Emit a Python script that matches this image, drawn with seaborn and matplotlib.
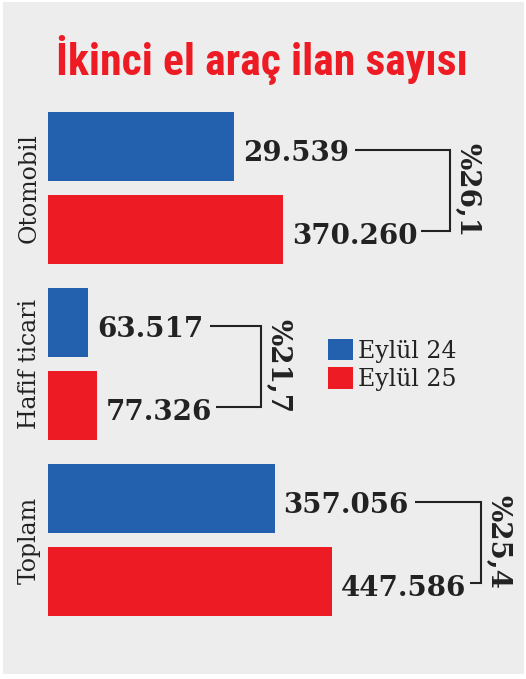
import matplotlib
matplotlib.use('Agg')
import matplotlib.pyplot as plt
from matplotlib import font_manager
from matplotlib.patches import Rectangle
import seaborn as sns
import pandas as pd

# data (bar lengths; the printed labels are kept as text)
categories = ['Otomobil', 'Hafif ticari', 'Toplam']
periods = ['Eylül 24', 'Eylül 25']
sep24 = [293539, 63517, 357056]
sep25 = [370260, 77326, 447586]
labels24 = ['29.539', '63.517', '357.056']
labels25 = ['370.260', '77.326', '447.586']

BLUE = '#2360ae'
RED = '#ed1c24'
BG = '#ededed'
INK = '#222222'

sns.set_theme(style='white')
plt.rcParams['font.family'] = ['DejaVu Serif']

names = {f.name for f in font_manager.fontManager.ttflist}
title_font = 'DejaVu Sans'
for cand in ['Roboto Condensed', 'Liberation Sans Narrow', 'DejaVu Sans Condensed', 'Open Sans Condensed']:
    if cand in names:
        title_font = cand
        break

df = pd.DataFrame({
    'kategori': categories * 2,
    'donem': [periods[0]] * len(categories) + [periods[1]] * len(categories),
    'ilan': sep24 + sep25,
})

W, H = 526, 679
fig = plt.figure(figsize=(W / 100, H / 100), dpi=100)
fig.patch.set_facecolor('white')
fig.patches.append(Rectangle((3 / W, 5 / H), 521 / W, 672 / H, transform=fig.transFigure,
                             facecolor=BG, edgecolor='none', zorder=-10))

ax = fig.add_axes([48 / W, 0, 1 - 48 / W, 1])
ax.set_facecolor('none')
sns.barplot(data=df, y='kategori', x='ilan', hue='donem', palette=[BLUE, RED],
            orient='h', width=0.94, gap=0.166, saturation=1, linewidth=0,
            ax=ax, legend=True)

ax.set_xlim(0, (W - 48) / 0.6345 * 1000)
ax.set_ylim(2.79, -1.068)
ax.set_xlabel('')
ax.set_ylabel('')
ax.set_xticks([])
for s in ax.spines.values():
    s.set_visible(False)
ax.tick_params(axis='y', length=0, pad=5)
for t in ax.get_yticklabels():
    t.set_rotation(90)
    t.set_va('center')
    t.set_fontsize(17)
    t.set_color(INK)

sns.move_legend(ax, loc='upper left', bbox_to_anchor=(328 / W, 1 - 339 / H),
                bbox_transform=fig.transFigure, frameon=False, title=None,
                fontsize=17, handlelength=1.05, handleheight=1.0,
                handletextpad=0.2, labelspacing=0.2, borderpad=0, borderaxespad=0)
for t in ax.get_legend().get_texts():
    t.set_color(INK)

fig.text(0.499, 1 - 75 / H, 'İkinci el araç ilan sayısı', ha='center', va='baseline',
         color=RED, fontsize=31.5, fontweight='heavy', family=[title_font, 'DejaVu Sans'])

# value labels
val_kw = dict(textcoords='offset pixels', va='center', ha='left', fontsize=20,
              fontweight='bold', color=INK)
texts = []
for cont, labs in zip(ax.containers, [labels24, labels25]):
    row = []
    for bar, lab in zip(cont.patches, labs):
        yc = bar.get_y() + bar.get_height() / 2
        row.append(ax.annotate(lab, (bar.get_width(), yc), xytext=(9, -7), **val_kw))
    texts.append(row)

fig.canvas.draw()
r = fig.canvas.get_renderer()
inv = ax.transData.inverted()
bracket_gap = [167, 164, 149]  # px from the longer bar to the bracket

for i in range(len(categories)):
    b1 = ax.containers[0].patches[i]
    b2 = ax.containers[1].patches[i]
    e1 = texts[0][i].get_window_extent(r)
    e2 = texts[1][i].get_window_extent(r)
    y1 = ax.transData.transform((0, b1.get_y() + b1.get_height() / 2))[1] - 3
    y2 = ax.transData.transform((0, b2.get_y() + b2.get_height() / 2))[1] - 2
    xend = ax.transData.transform((max(b1.get_width(), b2.get_width()), 0))[0]
    xv = xend + bracket_gap[i]
    pts = [(e1.x1 + 6, y1), (xv, y1), (xv, y2), (e2.x1 + 4, y2)]
    data_pts = inv.transform(pts)
    ax.plot(data_pts[:, 0], data_pts[:, 1], color=INK, lw=1.5, solid_capstyle='butt',
            solid_joinstyle='miter', clip_on=False)
    pct = (df['ilan'][i + len(categories)] / df['ilan'][i] - 1) * 100
    ytxt = ax.transData.transform((0, i))[1] - 2
    tx, ty = inv.transform((xv + 17, ytxt))
    ax.text(tx, ty, f'%{pct:.1f}'.replace('.', ','), rotation=270, ha='center', va='center',
            fontsize=20, fontweight='bold', color=INK, rotation_mode='anchor')

fig.savefig('out.png', dpi=100, facecolor='white')
